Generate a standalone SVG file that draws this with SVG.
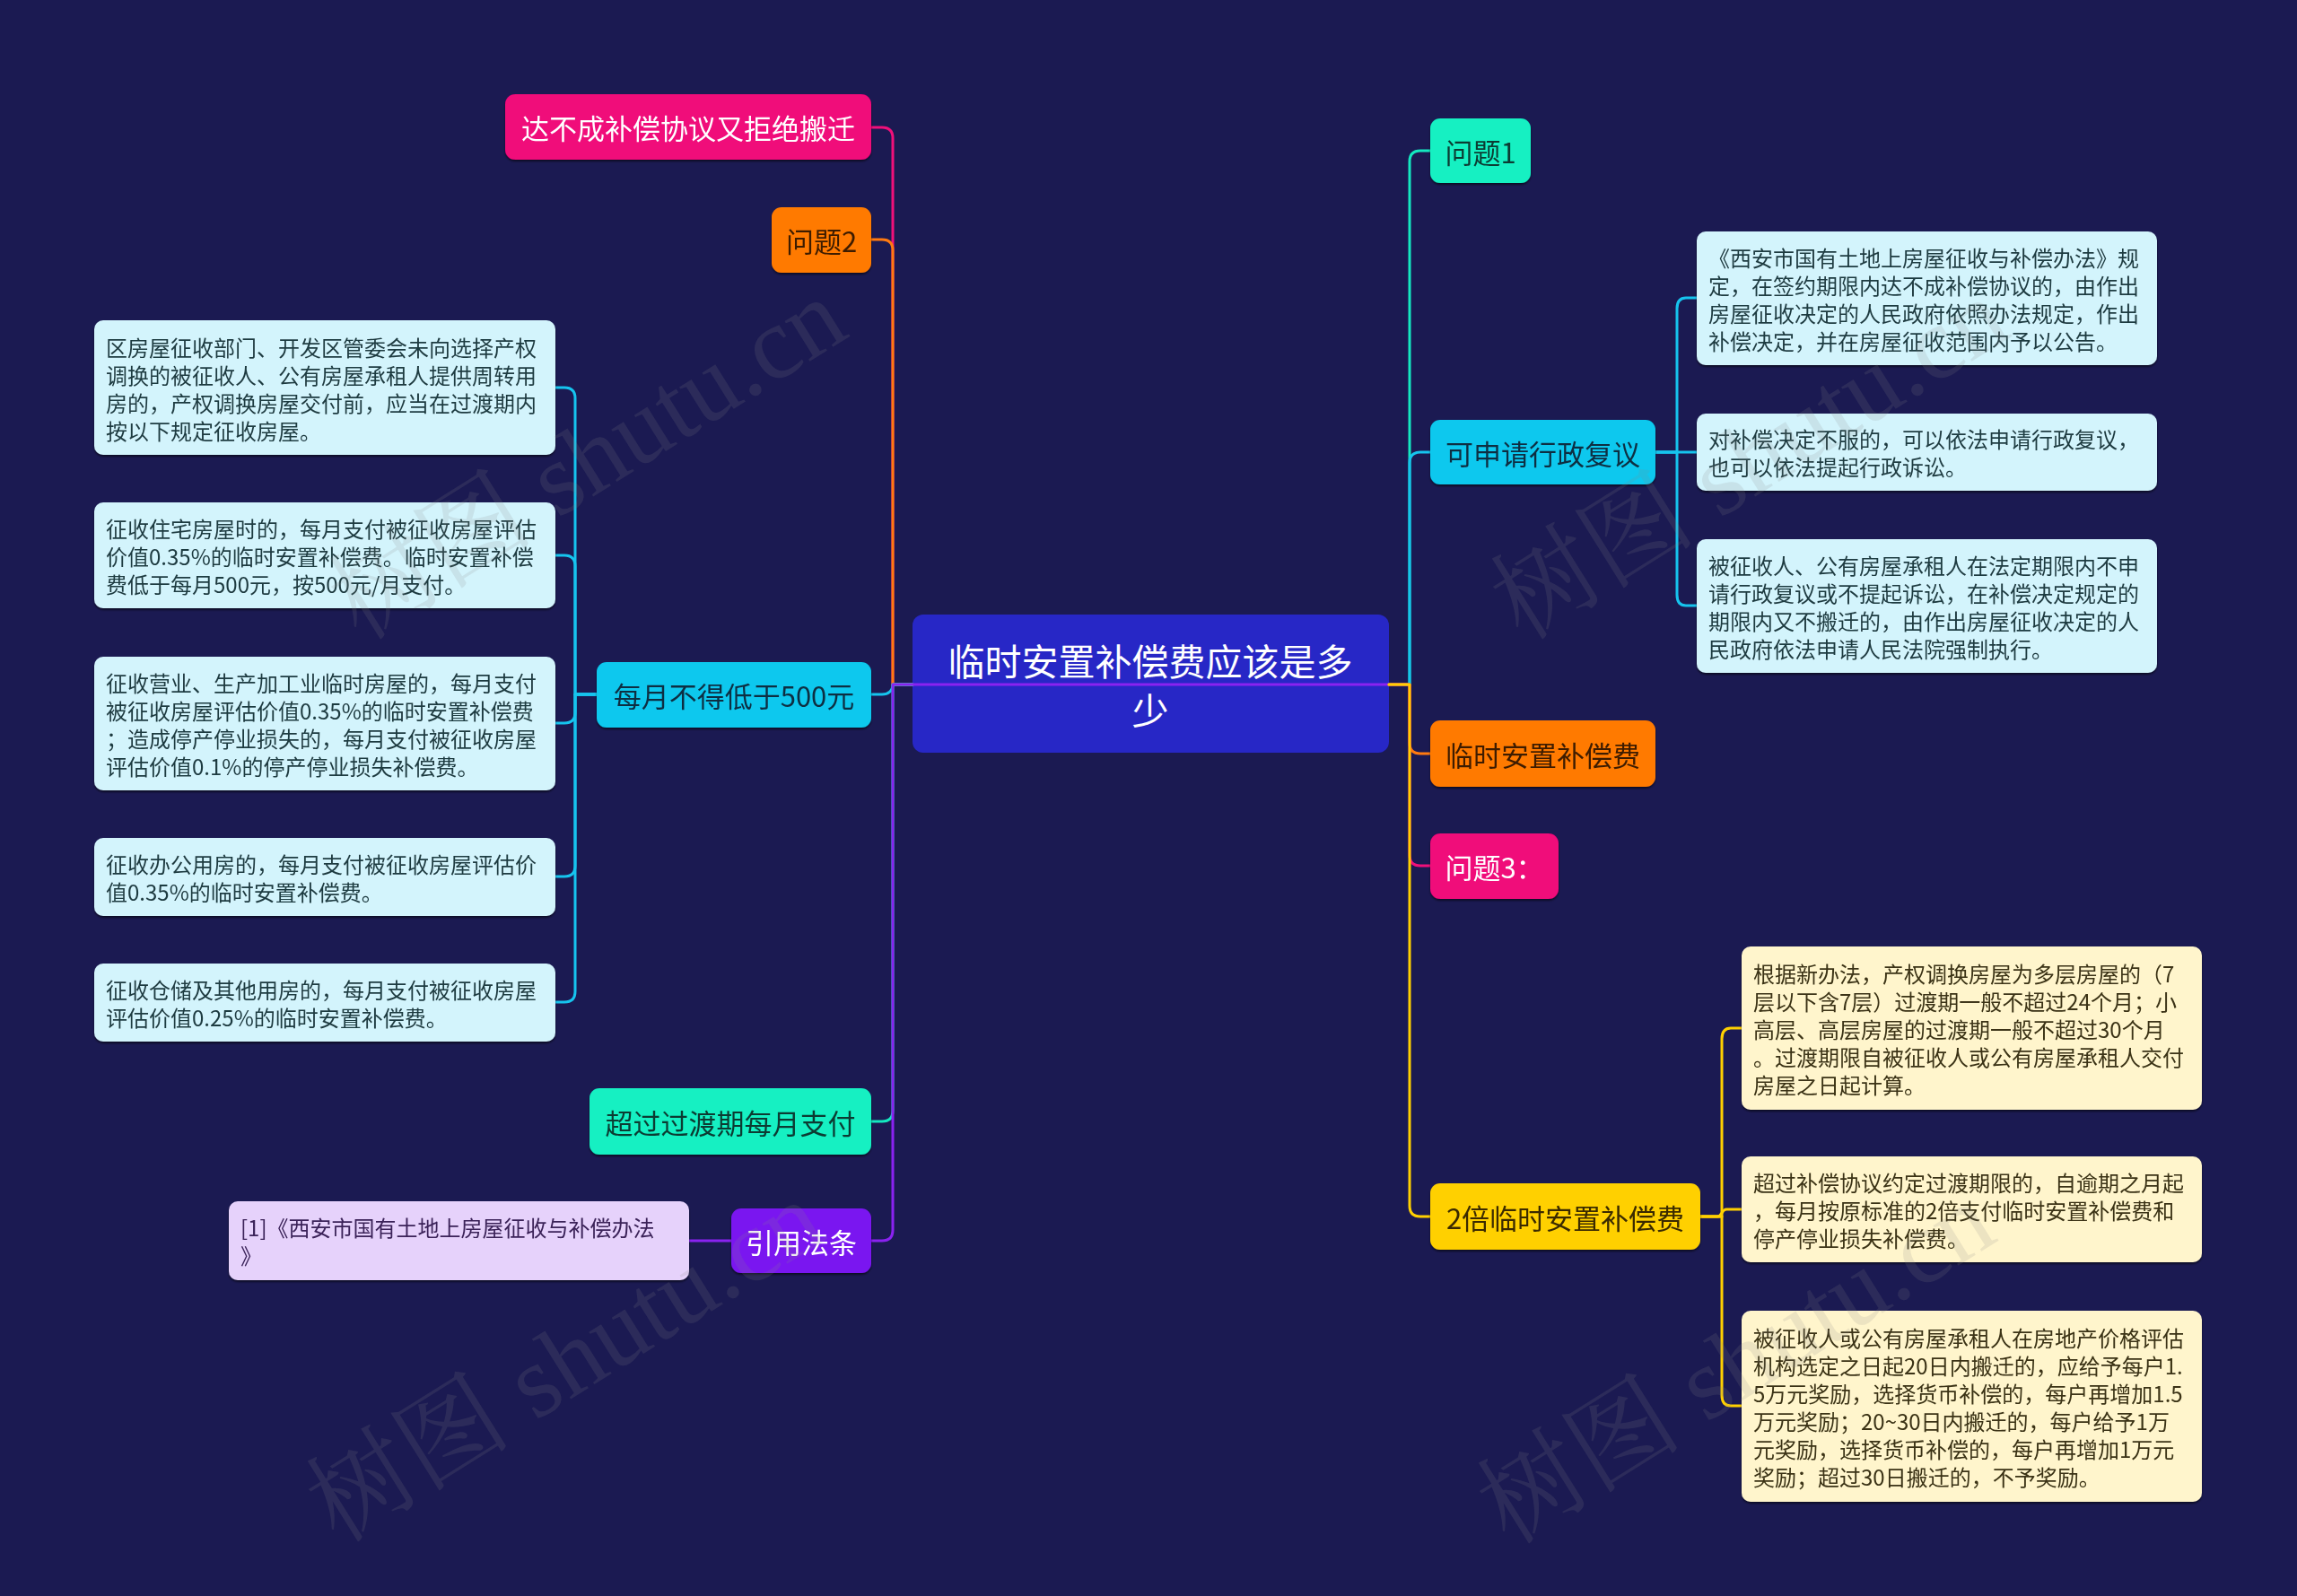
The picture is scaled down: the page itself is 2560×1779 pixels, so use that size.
<svg xmlns="http://www.w3.org/2000/svg" width="2560" height="1779" viewBox="0 0 2560 1779">
<defs>
<filter id="sh" x="-5%" y="-10%" width="110%" height="130%">
<feDropShadow dx="0" dy="2" stdDeviation="1.2" flood-color="#000000" flood-opacity="0.55"/>
</filter>
<style>
text{font-family:"Noto Sans CJK SC","Noto Sans",sans-serif;dominant-baseline:central}
.t1{font-size:31px;text-anchor:middle}
.tb{font-size:24px}
.root{font-size:41px;text-anchor:middle;fill:#ffffff}
.c{fill:none;stroke-width:3;stroke-linecap:round;stroke-linejoin:round}
.wm{font-family:"Liberation Serif","Noto Serif CJK SC","Noto Sans CJK SC",serif;font-size:115px;fill:#8a8a8a;fill-opacity:0.16;text-anchor:middle}
.dark1{fill:#0c3a30}.darkc{fill:#0c2f42}.darko{fill:#3d1c00}.darky{fill:#3a2c00}.wt{fill:#ffffff}
.bc{fill:#d3f4fc}.btc{fill:#1f3a40}
.by{fill:#fff5cc}.bty{fill:#3a3214}
.bp{fill:#e6d2fb}.btp{fill:#3a2258}
</style>
</defs>
<rect width="2560" height="1779" fill="#1b1a52"/>

<g id="root">
<rect x="1017" y="685" width="531" height="154" rx="12" fill="#2727c6"/>
<text class="root" x="1282" y="735">临时安置补偿费应该是多</text>
<text class="root" x="1282" y="790">少</text>
</g>

<g id="connectors">
<path class="c" stroke="#f0107a" d="M1017 763 H995 V154 Q995 142 983 142 H971"/>
<path class="c" stroke="#ff7a10" d="M1017 763 H995 V279 Q995 267 983 267 H971"/>
<path class="c" stroke="#16c4ee" d="M1017 763 H995 C995 770 990 774 983 774 H971"/>
<path class="c" stroke="#14e8c0" d="M1017 763 H995 V1238 Q995 1250 983 1250 H971"/>
<path class="c" stroke="#8a22f0" d="M1548 763 H995 V1371 Q995 1383 983 1383 H971"/>
<path class="c" stroke="#8a22f0" d="M815 1383 H768"/>
<path class="c" stroke="#14e8c0" d="M1548 763 H1571 V180 Q1571 168 1583 168 H1594"/>
<path class="c" stroke="#16c4ee" d="M1548 763 H1571 V516 Q1571 504 1583 504 H1594"/>
<path class="c" stroke="#ff7a10" d="M1548 763 H1571 V828 Q1571 840 1583 840 H1594"/>
<path class="c" stroke="#f0107a" d="M1548 763 H1571 V953 Q1571 965 1583 965 H1594"/>
<path class="c" stroke="#ffd000" d="M1548 763 H1571 V1344 Q1571 1356 1583 1356 H1594"/>
<path class="c" stroke="#16c4ee" d="M665 774 H641 V444 Q641 432 629 432 H619"/>
<path class="c" stroke="#16c4ee" d="M665 774 H641 V631 Q641 619 629 619 H619"/>
<path class="c" stroke="#16c4ee" d="M665 774 H641 V794 Q641 806 629 806 H619"/>
<path class="c" stroke="#16c4ee" d="M665 774 H641 V965 Q641 977 629 977 H619"/>
<path class="c" stroke="#16c4ee" d="M665 774 H641 V1105 Q641 1117 629 1117 H619"/>
<path class="c" stroke="#16c4ee" d="M1845 504 H1869 V344 Q1869 332 1879 332 H1891"/>
<path class="c" stroke="#16c4ee" d="M1845 504 H1891"/>
<path class="c" stroke="#16c4ee" d="M1845 504 H1869 V663 Q1869 675 1879 675 H1891"/>
<path class="c" stroke="#ffd000" d="M1895 1356 H1919 V1158 Q1919 1146 1929 1146 H1941"/>
<path class="c" stroke="#ffd000" d="M1895 1356 H1914 C1919 1356 1919 1348 1924 1348 H1941"/>
<path class="c" stroke="#ffd000" d="M1895 1356 H1919 V1555 Q1919 1567 1929 1567 H1941"/>
</g>

<g id="n-dabucheng" filter="url(#sh)">
<rect x="563" y="105" width="408" height="73" rx="11" fill="#f0077a"/>
<text class="t1 wt" x="767" y="141.5">达不成补偿协议又拒绝搬迁</text>
</g>
<g id="n-wenti2" filter="url(#sh)">
<rect x="860" y="231" width="111" height="73" rx="11" fill="#ff7a00"/>
<text class="t1 darko" x="915.5" y="267.5">问题2</text>
</g>
<g id="n-meiyue" filter="url(#sh)">
<rect x="665" y="738" width="306" height="73" rx="11" fill="#08c8ee"/>
<text class="t1 darkc" x="818" y="774.5">每月不得低于500元</text>
</g>
<g id="n-chaoguo" filter="url(#sh)">
<rect x="657" y="1213" width="314" height="74" rx="11" fill="#12f0c2"/>
<text class="t1 dark1" x="814" y="1250">超过过渡期每月支付</text>
</g>
<g id="n-yinyong" filter="url(#sh)">
<rect x="815" y="1347" width="156" height="72" rx="11" fill="#7a16f0"/>
<text class="t1 wt" x="893" y="1383">引用法条</text>
</g>
<g id="n-ref" filter="url(#sh)">
<rect x="255" y="1339" width="513" height="88" rx="10" class="bp"/>
<text class="tb btp" x="268" y="1367.5">[1]《西安市国有土地上房屋征收与补偿办法</text>
<text class="tb btp" x="268" y="1398.5">》</text>
</g>

<g id="n-l1" filter="url(#sh)">
<rect x="105" y="357" width="514" height="150" rx="10" class="bc"/>
<text class="tb btc" x="118" y="386">区房屋征收部门、开发区管委会未向选择产权</text>
<text class="tb btc" x="118" y="417">调换的被征收人、公有房屋承租人提供周转用</text>
<text class="tb btc" x="118" y="448">房的，产权调换房屋交付前，应当在过渡期内</text>
<text class="tb btc" x="118" y="479">按以下规定征收房屋。</text>
</g>
<g id="n-l2" filter="url(#sh)">
<rect x="105" y="560" width="514" height="118" rx="10" class="bc"/>
<text class="tb btc" x="118" y="588">征收住宅房屋时的，每月支付被征收房屋评估</text>
<text class="tb btc" x="118" y="619">价值0.35%的临时安置补偿费。临时安置补偿</text>
<text class="tb btc" x="118" y="650">费低于每月500元，按500元/月支付。</text>
</g>
<g id="n-l3" filter="url(#sh)">
<rect x="105" y="732" width="514" height="149" rx="10" class="bc"/>
<text class="tb btc" x="118" y="760">征收营业、生产加工业临时房屋的，每月支付</text>
<text class="tb btc" x="118" y="791">被征收房屋评估价值0.35%的临时安置补偿费</text>
<text class="tb btc" x="118" y="822">；造成停产停业损失的，每月支付被征收房屋</text>
<text class="tb btc" x="118" y="853">评估价值0.1%的停产停业损失补偿费。</text>
</g>
<g id="n-l4" filter="url(#sh)">
<rect x="105" y="934" width="514" height="87" rx="10" class="bc"/>
<text class="tb btc" x="118" y="962">征收办公用房的，每月支付被征收房屋评估价</text>
<text class="tb btc" x="118" y="993">值0.35%的临时安置补偿费。</text>
</g>
<g id="n-l5" filter="url(#sh)">
<rect x="105" y="1074" width="514" height="87" rx="10" class="bc"/>
<text class="tb btc" x="118" y="1102">征收仓储及其他用房的，每月支付被征收房屋</text>
<text class="tb btc" x="118" y="1133">评估价值0.25%的临时安置补偿费。</text>
</g>

<g id="n-wenti1" filter="url(#sh)">
<rect x="1594" y="132" width="112" height="72" rx="11" fill="#12f0c2"/>
<text class="t1 dark1" x="1650" y="168">问题1</text>
</g>
<g id="n-fuyi" filter="url(#sh)">
<rect x="1594" y="468" width="251" height="72" rx="11" fill="#08c8ee"/>
<text class="t1 darkc" x="1719.5" y="504">可申请行政复议</text>
</g>
<g id="n-linshi" filter="url(#sh)">
<rect x="1594" y="803" width="251" height="74" rx="11" fill="#ff7a00"/>
<text class="t1 darko" x="1719.5" y="840">临时安置补偿费</text>
</g>
<g id="n-wenti3" filter="url(#sh)">
<rect x="1594" y="929" width="143" height="73" rx="11" fill="#f0077a"/>
<text class="t1 wt" x="1665.5" y="965.5">问题3：</text>
</g>
<g id="n-2bei" filter="url(#sh)">
<rect x="1594" y="1319" width="301" height="74" rx="11" fill="#ffd000"/>
<text class="t1 darky" x="1744.5" y="1356">2倍临时安置补偿费</text>
</g>

<g id="n-r1" filter="url(#sh)">
<rect x="1891" y="258" width="513" height="149" rx="10" class="bc"/>
<text class="tb btc" x="1904" y="286">《西安市国有土地上房屋征收与补偿办法》规</text>
<text class="tb btc" x="1904" y="317">定，在签约期限内达不成补偿协议的，由作出</text>
<text class="tb btc" x="1904" y="348">房屋征收决定的人民政府依照办法规定，作出</text>
<text class="tb btc" x="1904" y="379">补偿决定，并在房屋征收范围内予以公告。</text>
</g>
<g id="n-r2" filter="url(#sh)">
<rect x="1891" y="461" width="513" height="86" rx="10" class="bc"/>
<text class="tb btc" x="1904" y="488.5">对补偿决定不服的，可以依法申请行政复议，</text>
<text class="tb btc" x="1904" y="519.5">也可以依法提起行政诉讼。</text>
</g>
<g id="n-r3" filter="url(#sh)">
<rect x="1891" y="601" width="513" height="149" rx="10" class="bc"/>
<text class="tb btc" x="1904" y="629">被征收人、公有房屋承租人在法定期限内不申</text>
<text class="tb btc" x="1904" y="660">请行政复议或不提起诉讼，在补偿决定规定的</text>
<text class="tb btc" x="1904" y="691">期限内又不搬迁的，由作出房屋征收决定的人</text>
<text class="tb btc" x="1904" y="722">民政府依法申请人民法院强制执行。</text>
</g>

<g id="n-y1" filter="url(#sh)">
<rect x="1941" y="1055" width="513" height="182" rx="10" class="by"/>
<text class="tb bty" x="1954" y="1084">根据新办法，产权调换房屋为多层房屋的（7</text>
<text class="tb bty" x="1954" y="1115">层以下含7层）过渡期一般不超过24个月；小</text>
<text class="tb bty" x="1954" y="1146">高层、高层房屋的过渡期一般不超过30个月</text>
<text class="tb bty" x="1954" y="1177">。过渡期限自被征收人或公有房屋承租人交付</text>
<text class="tb bty" x="1954" y="1208">房屋之日起计算。</text>
</g>
<g id="n-y2" filter="url(#sh)">
<rect x="1941" y="1289" width="513" height="118" rx="10" class="by"/>
<text class="tb bty" x="1954" y="1317">超过补偿协议约定过渡期限的，自逾期之月起</text>
<text class="tb bty" x="1954" y="1348">，每月按原标准的2倍支付临时安置补偿费和</text>
<text class="tb bty" x="1954" y="1379">停产停业损失补偿费。</text>
</g>
<g id="n-y3" filter="url(#sh)">
<rect x="1941" y="1461" width="513" height="213" rx="10" class="by"/>
<text class="tb bty" x="1954" y="1490">被征收人或公有房屋承租人在房地产价格评估</text>
<text class="tb bty" x="1954" y="1521">机构选定之日起20日内搬迁的，应给予每户1.</text>
<text class="tb bty" x="1954" y="1552">5万元奖励，选择货币补偿的，每户再增加1.5</text>
<text class="tb bty" x="1954" y="1583">万元奖励；20~30日内搬迁的，每户给予1万</text>
<text class="tb bty" x="1954" y="1614">元奖励，选择货币补偿的，每户再增加1万元</text>
<text class="tb bty" x="1954" y="1645">奖励；超过30日搬迁的，不予奖励。</text>
</g>

<g id="watermarks">
<text class="wm" transform="translate(655 512) rotate(-32)">树图 shutu.cn</text>
<text class="wm" transform="translate(630 1518) rotate(-32)">树图 shutu.cn</text>
<text class="wm" transform="translate(1950 512) rotate(-32)">树图 shutu.cn</text>
<text class="wm" transform="translate(1935 1520) rotate(-32)">树图 shutu.cn</text>
</g>
</svg>
